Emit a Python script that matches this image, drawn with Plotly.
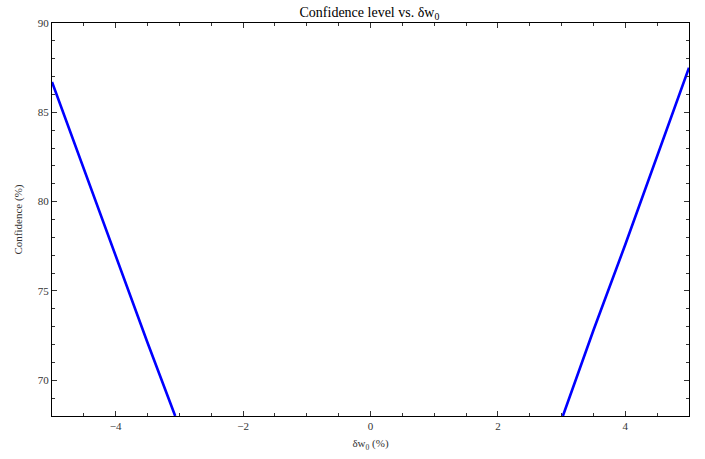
import plotly.graph_objects as go

# Left branch (dw0 < 0)
left_x = [-5.0, -4.5, -4.0, -3.5, -3.066]
left_y = [86.7, 81.8, 76.9, 72.1, 68.0]
# Right branch (dw0 > 0)
right_x = [3.02, 3.5, 4.0, 4.5, 5.0]
right_y = [68.0, 72.8, 77.6, 82.5, 87.5]

x_ticks = [-4, -2, 0, 2, 4]
x_labels = ["\u22124", "\u22122", "0", "2", "4"]
y_ticks = [70, 75, 80, 85, 90]

line_style = dict(color="rgb(0,0,255)", width=2.6)

fig = go.Figure()
fig.add_trace(go.Scatter(x=left_x, y=left_y, mode="lines", line=line_style, showlegend=False))
fig.add_trace(go.Scatter(x=right_x, y=right_y, mode="lines", line=line_style, showlegend=False))

font = dict(family="Liberation Serif", size=11, color="#333333")
axis_common = dict(
    showgrid=False, zeroline=False, showline=True, linecolor="black", linewidth=1,
    mirror="allticks", ticks="inside", ticklen=5, tickwidth=1, tickcolor="#333333",
    tickfont=font,
)

fig.update_layout(
    width=705, height=459,
    margin=dict(l=52, r=16, t=23, b=43),
    paper_bgcolor="white", plot_bgcolor="white",
    title=dict(text="Confidence level vs. \u03b4w<sub>0</sub>", x=0.524, xanchor="center",
               y=0.985, yanchor="top",
               font=dict(family="Liberation Serif", size=14, color="black")),
    xaxis=dict(range=[-5, 5], tickvals=x_ticks, ticktext=x_labels,
               minor=dict(dtick=0.5, ticklen=3, ticks="inside", tickcolor="#333333"),
               title=dict(text="\u03b4w<sub>0</sub> (%)", font=font, standoff=8),
               **axis_common),
    yaxis=dict(range=[68, 90], tickvals=y_ticks,
               minor=dict(dtick=1, ticklen=3, ticks="inside", tickcolor="#333333"),
               title=dict(text="Confidence (%)", font=font, standoff=12),
               **axis_common),
)

fig.write_html("out.html")
